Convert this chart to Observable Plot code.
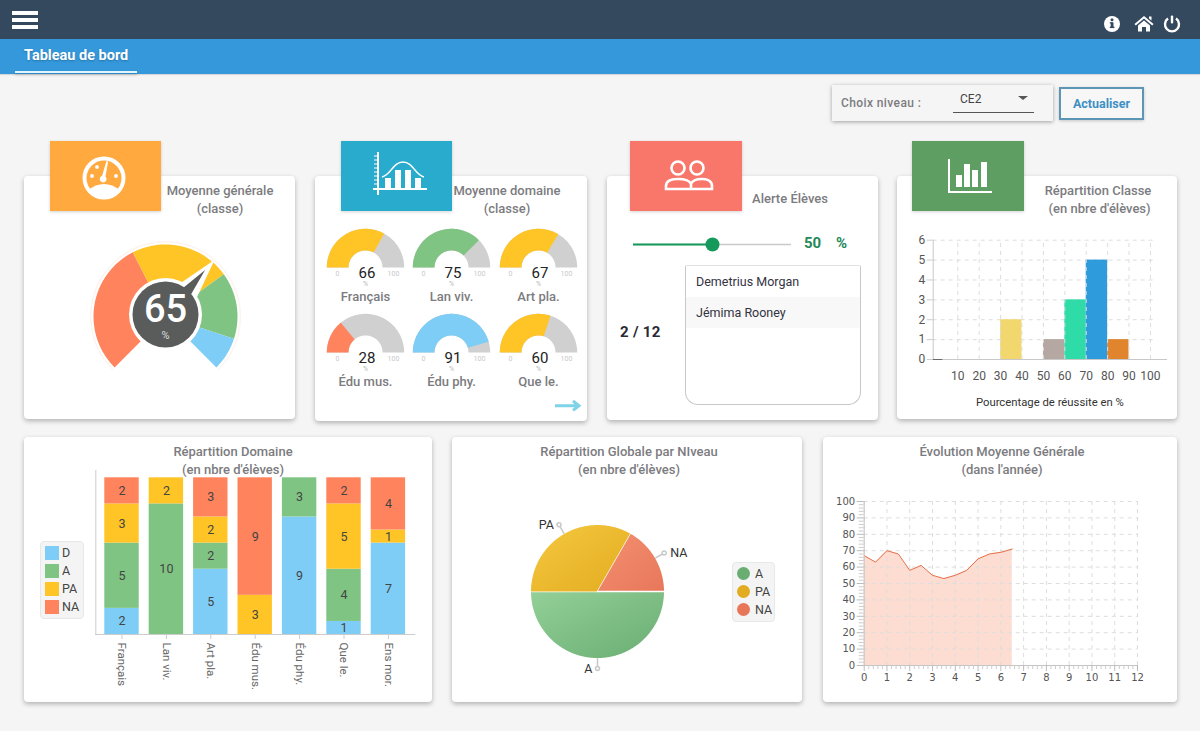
<!DOCTYPE html>
<html lang="fr"><head><meta charset="utf-8">
<script src="https://cdn.jsdelivr.net/npm/d3@7"></script>
<script src="https://cdn.jsdelivr.net/npm/@observablehq/plot@0.6"></script>
<style>
html,body{margin:0;padding:0}
body{width:1200px;height:731px;position:relative;overflow:hidden;background:#f5f5f5;font-family:Roboto,sans-serif}
.abs,.card,.icon,.ttl,.plot{position:absolute}
.card{background:#fff;border-radius:4px;box-shadow:0 2px 5px rgba(0,0,0,.28)}
.icon{box-shadow:0 1px 3px rgba(0,0,0,.18)}
.ttl{color:#7c7c80;font-weight:500;font-size:13px;line-height:18px;text-align:center;white-space:nowrap;transform:translateX(-50%)}
.plot svg{display:block;background:transparent;overflow:visible}
.lg{position:absolute;background:#f4f4f4;border:1px solid #e8e8e8;border-radius:4px;box-sizing:border-box}
.lgrow{position:absolute;font-size:12.5px;color:#444;line-height:14px;white-space:nowrap}
</style></head><body>
<div class="abs" style="left:0;top:0;width:1200px;height:39px;background:#34495e;box-shadow:0 1px 3px rgba(0,0,0,.5)"></div>
<div class="abs" style="left:0;top:39px;width:1200px;height:35px;background:#3498db;box-shadow:0 1px 1px rgba(0,0,0,.12)"></div>
<div class="abs" style="left:12px;top:11px;width:26px;height:4px;background:#fff;box-shadow:0 7px 0 #fff,0 14px 0 #fff"></div>
<div class="abs" style="left:24px;top:47px;color:#fff;font-weight:700;font-size:14.5px;line-height:18px;white-space:nowrap;text-shadow:0 1px 2px rgba(0,0,0,.25)">Tableau de bord</div>
<div class="abs" style="left:15px;top:71px;width:122px;height:2px;background:#e3f6ff;box-shadow:0 2px 3px rgba(0,0,0,.2)"></div>
<svg class="abs" style="left:1100px;top:10px" width="90" height="30" viewBox="0 0 90 30" fill="#fff">
<circle cx="12" cy="14" r="8"/><rect x="10.7" y="12.5" width="2.8" height="5.5" fill="#34495e"/><rect x="9.8" y="16.6" width="4.6" height="1.5" fill="#34495e"/><rect x="9.8" y="12.2" width="3" height="1.3" fill="#34495e"/><circle cx="12" cy="9.8" r="1.5" fill="#34495e"/>
<path d="M44 6 l9.5 8 -1.3 1.4 -8.2 -6.9 -8.2 6.9 -1.3 -1.4 9.5 -8z M38 15.5 l6 -5 6 5 V21.5 h-4 v-4.5 h-4 v4.5 h-4z M49 6.5h2.5v4l-2.5 -2z"/>
<path d="M68 8.6a7 7 0 1 0 8 0" fill="none" stroke="#fff" stroke-width="2.4"/><rect x="70.8" y="5.5" width="2.4" height="8" rx="1"/>
</svg>
<div class="abs" style="left:832px;top:85px;width:221px;height:36px;background:#f5f5f5;box-shadow:0 1px 4px rgba(0,0,0,.35)"></div>
<div class="abs" style="left:841px;top:95px;font-size:12px;font-weight:500;color:#7c7c80;line-height:16px;letter-spacing:.4px">Choix niveau :</div>
<div class="abs" style="left:960px;top:91px;font-size:12px;color:#444;line-height:16px">CE2</div>
<div class="abs" style="left:1018px;top:96px;width:0;height:0;border-left:5px solid transparent;border-right:5px solid transparent;border-top:4px solid #555"></div>
<div class="abs" style="left:953px;top:112px;width:81px;height:1px;background:#555"></div>
<div class="abs" style="left:1059px;top:87px;width:85px;height:33px;box-sizing:border-box;border:2px solid #5d95b5;background:#f7f7f7;color:#3d8fc4;font-size:12.5px;font-weight:700;text-align:center;line-height:30px;box-shadow:0 1px 3px rgba(0,0,0,.2)">Actualiser</div>

<div class="card" style="left:24px;top:176px;width:271px;height:243px"></div>
<div class="card" style="left:315px;top:176px;width:272px;height:245px"></div>
<div class="card" style="left:607px;top:176px;width:271px;height:244px"></div>
<div class="card" style="left:897px;top:176px;width:280px;height:243px"></div>
<div class="card" style="left:24px;top:437px;width:408px;height:265px"></div>
<div class="card" style="left:452px;top:437px;width:350px;height:265px"></div>
<div class="card" style="left:823px;top:437px;width:354px;height:265px"></div>

<div class="icon" style="left:50px;top:141px;width:111px;height:70px;background:#ffa93f"><svg width="111" height="70" fill="#fff">
<circle cx="54" cy="37" r="19.5" fill="none" stroke="#fff" stroke-width="4"/><path d="M38 49q16 -12 32 0q-6 8 -16 8t-16 -8z"/><path d="M56.5 20l1.6 .6-2.6 15a3.4 3.4 0 1 1-3.4-.8z"/><circle cx="42" cy="35" r="1.9"/><circle cx="47" cy="26" r="1.9"/><circle cx="66" cy="35" r="1.9"/></svg></div>
<div class="icon" style="left:341px;top:141px;width:111px;height:70px;background:#29abce"><svg width="111" height="70" fill="#fff">
<rect x="36" y="11" width="2" height="43"/><rect x="32" y="47" width="54" height="2"/><path d="M33 15h3M33 19h3M33 23h3M33 27h3M33 31h3M33 35h3M33 39h3M33 43h3" stroke="#fff"/>
<rect x="44" y="37" width="6" height="10"/><rect x="54" y="29" width="6" height="18"/><rect x="64" y="29" width="6" height="18"/><rect x="74" y="37" width="6" height="10"/>
<path d="M41 36C50 34 52 21 62 21S74 34 83 36" fill="none" stroke="#fff" stroke-width="1.4"/></svg></div>
<div class="icon" style="left:630px;top:141px;width:112px;height:70px;background:#f8776a"><svg width="112" height="70" fill="none" stroke="#fff" stroke-width="2.6">
<circle cx="48" cy="27" r="6.5"/><circle cx="67" cy="27" r="6.5"/><path d="M36 48v-3c0-7 9-7 12-7s11 0 13 5v5zM61 43c2-5 8-5 11-5s10 1 10 7v3H47"/></svg></div>
<div class="icon" style="left:912px;top:141px;width:112px;height:70px;background:#5e9e63"><svg width="112" height="70" fill="#fff">
<rect x="36" y="18" width="2" height="34"/><rect x="36" y="50" width="44" height="2"/><rect x="44" y="34" width="6" height="12"/><rect x="52" y="23" width="6" height="23"/><rect x="60" y="29" width="6" height="17"/><rect x="69" y="21" width="6" height="25"/></svg></div>

<div class="ttl" style="left:220px;top:182px">Moyenne générale<br>(classe)</div>
<div class="ttl" style="left:507px;top:182px">Moyenne domaine<br>(classe)</div>
<div class="ttl" style="left:790px;top:190px">Alerte Élèves</div>
<div class="ttl" style="left:1098px;top:182px">Répartition Classe<br>&nbsp;(en nbre d'élèves)</div>
<div class="ttl" style="left:233px;top:443px">Répartition Domaine<br>(en nbre d'élèves)</div>
<div class="ttl" style="left:629px;top:443px">Répartition Globale par NIveau<br>(en nbre d'élèves)</div>
<div class="ttl" style="left:1002px;top:443px">Évolution Moyenne Générale<br>(dans l'année)</div>

<svg class="abs" style="left:553px;top:397px" width="30" height="18"><path d="M2 8.7H24M20 4l6 4.7-6 4.7" fill="none" stroke="#7fd3e8" stroke-width="3"/></svg>

<div class="abs" style="left:620px;top:323px;font-weight:700;font-size:15px;line-height:18px;color:#2a2a35;letter-spacing:.3px">2 / 12</div>
<div class="abs" style="left:685px;top:265px;width:176px;height:140px;box-sizing:border-box;border:1px solid #c8c8c8;border-top-color:#e2e2e2;border-radius:2px 2px 13px 13px;overflow:hidden">
 <div id="names"></div></div>
<script>
/* ---------- data ---------- */
const COL = {D:"#7ecdf6", A:"#7fc482", PA:"#ffc425", NA:"#ff835c", grey:"#d0d0d0"};
const mainScore = 65, mainUnit = "%";
const mainBandEnds = [40, 70, 90, 100];
const mainBandColors = [COL.NA, COL.PA, COL.A, COL.D];

const domainNames  = ["Français","Lan viv.","Art pla.","Édu mus.","Édu phy.","Que le."];
const domainScores = [66, 75, 67, 28, 91, 60];
const domainColors = [COL.PA, COL.A, COL.PA, COL.NA, COL.D, COL.PA];

const alertThreshold = 50;
const alertStudents = ["Demetrius Morgan","Jémima Rooney"];

const binStarts = [0,10,20,30,40,50,60,70,80,90];
const binCounts = [0,0,0,2,0,1,3,5,1,0];
const binColors = ["#6b6b6b","#fff","#fff","#f2d76e","#fff","#b5a7a1","#2fdba6","#2d9bdc","#e0842e","#fff"];
const binTicks  = [10,20,30,40,50,60,70,80,90,100];

const stackCats = ["Français","Lan viv.","Art pla.","Édu mus.","Édu phy.","Que le.","Ens mor."];
const levels = ["D","A","PA","NA"];
const countsD  = [2,0,5,0,9,1,7];
const countsA  = [5,10,2,0,3,4,0];
const countsPA = [3,2,2,3,0,5,1];
const countsNA = [2,0,3,9,0,2,4];
const levelColors = [COL.D, COL.A, COL.PA, COL.NA];

const pieLabels = ["A","PA","NA"];
const pieValues = [6,4,2];
const pieGrad = [["#93d097","#69ad72"],["#f5c83f","#e3ac20"],["#f39070","#e8775a"]];

const evoMonths = [0,0.5,1,1.5,2,2.5,3,3.5,4,4.5,5,5.5,6,6.5];
const evoValues = [67,63,70,68,58,61,55,53,55,58,65,68,69,71];
const xMajor = d3.range(0,13), yMajor = d3.range(0,101,10);

/* ---------- helpers ---------- */
const pt = (deg,r)=>({x:r*Math.sin(deg*Math.PI/180), y:r*Math.cos(deg*Math.PI/180)});
function arc(a0,a1,r0,r1){
  const n=Math.max(2,Math.ceil(Math.abs(a1-a0)/2)), out=[];
  for(let i=0;i<=n;i++) out.push(pt(a0+(a1-a0)*i/n,r1));
  if(r0>0) for(let i=n;i>=0;i--) out.push(pt(a0+(a1-a0)*i/n,r0));
  else out.push({x:0,y:0});
  return out;
}
function put(svg,left,top){const d=document.createElement("div");d.className="plot";d.style.left=left+"px";d.style.top=top+"px";d.appendChild(svg);document.body.appendChild(d);}
const font={fontFamily:"Roboto, sans-serif",background:"transparent",overflow:"visible"};
const poly=(pts,o)=>Plot.line(pts,{x:"x",y:"y",curve:"linear",stroke:"none",...o});
const txt=(x,y,text,o)=>Plot.text([{x,y}],{x:"x",y:"y",text:()=>text,...o});

/* ---------- main gauge ---------- */
{
  const a=v=>-135+2.7*v;
  const bands=mainBandEnds.map((e,i)=>poly(arc(a(i?mainBandEnds[i-1]:0),a(e),35,72),{fill:mainBandColors[i]}));
  const n=a(mainScore);
  put(Plot.plot({width:180,height:180,margin:0,x:{domain:[-90,90],axis:null},y:{domain:[-90,90],axis:null},style:font,marks:[
    poly(arc(a(0),a(100),74.5,75),{stroke:"#fdf4f0",strokeWidth:1}),
    ...bands,
    poly(arc(n-18,n+18,34,35).slice(0,19).concat([pt(n,73)]),{fill:"#fff",stroke:"#fff",strokeWidth:2}),
    Plot.dot([{x:0,y:2}],{x:"x",y:"y",r:36.5,fill:"#fff"}),
    poly(arc(n-12,n+12,28,29).slice(0,13).concat([pt(n,61)]),{fill:"#595c5b"}),
    Plot.dot([{x:0,y:2}],{x:"x",y:"y",r:33,fill:"#595c5b"}),
    txt(0,7,String(mainScore),{fill:"#fff",fontSize:38,fontWeight:500}),
    txt(0,-19,mainUnit,{fill:"#ddd",fontSize:11})
  ]}),75,226);
}

/* ---------- domain gauges ---------- */
domainScores.forEach((v,i)=>{
  const cx=[364.7,451.3,537.8][i%3], by=i<3?266.7:352.3;
  const a=x=>-90+1.8*x;
  put(Plot.plot({width:90,height:76,margin:0,x:{domain:[-45,45],axis:null},y:{domain:[-36,40],axis:null},style:font,marks:[
    poly(arc(a(0),a(100),17,38.7),{fill:COL.grey}),
    poly(arc(a(0),a(v),17,38.7),{fill:domainColors[i]}),
    txt(-28,-6.5,"0",{fill:"#c9c9c9",fontSize:7}),
    txt(28,-6.5,"100",{fill:"#c9c9c9",fontSize:7}),
    txt(1.5,-6,String(v),{fill:"#222",fontSize:15}),
    txt(0,-16.5,"%",{fill:"#bbb",fontSize:7}),
    txt(0,-29,domainNames[i],{fill:"#7c7c80",fontSize:13,fontWeight:500})
  ]}),cx-45,by-40);
});

/* ---------- alert ---------- */
put(Plot.plot({width:158,height:24,margin:0,x:{domain:[0,100],axis:null},y:{domain:[0,1],axis:null},style:font,marks:[
  Plot.ruleY([0.5],{x1:0,x2:100,stroke:"#c9c9c9",strokeWidth:1.6}),
  Plot.ruleY([0.5],{x1:0,x2:alertThreshold,stroke:"#159a5b",strokeWidth:2}),
  Plot.dot([alertThreshold],{x:d=>d,y:()=>0.5,r:7,fill:"#159a5b"})
]}),633,232);
{
  const h=document.createElement("div");h.className="abs";h.style.cssText="left:804px;top:234px;font-weight:700;font-size:15px;line-height:18px;color:#23895a;white-space:pre";h.textContent=alertThreshold+"    %";document.body.appendChild(h);
  document.getElementById("names").innerHTML=alertStudents.map((n,i)=>`<div style="height:31px;line-height:31px;padding-left:10px;font-size:12.5px;color:#33333f;background:${i%2?"#f8f8f8":"#fff"}">${n}</div>`).join("");
}

/* ---------- histogram ---------- */
{
  const rows=binStarts.map((s,i)=>({s,e:s+10,c:binCounts[i],col:binColors[i]})).filter(d=>d.c>0);
  const tick={fontFamily:"Roboto, sans-serif",fontSize:12};
  put(Plot.plot({width:280,height:243,marginLeft:35.7,marginRight:11,marginTop:63.7,marginBottom:60,
    x:{domain:[-1.5,107.5]},y:{domain:[0,6]},style:font,marks:[
    Plot.ruleY([1,2,3,4,5,6],{x1:-1.5,x2:102,stroke:"#ddd",strokeDasharray:"4,4"}),
    Plot.rectY(rows,{x1:"s",x2:"e",y:"c",fill:d=>d.col}),
    Plot.ruleX(binTicks,{y1:0,y2:6,stroke:"#ddd",strokeDasharray:"4,4"}),
    Plot.frame({anchor:"left",stroke:"#c8c8c8"}),
    Plot.frame({anchor:"bottom",stroke:"#c8c8c8"}),
    Plot.ruleY([0],{x1:-1.5,x2:3,stroke:"#6b6b6b"}),
    Plot.axisY({ticks:[0,1,2,3,4,5,6],tickFormat:d=>String(d),tickSize:6,tickPadding:2,label:null,stroke:"#ccc",fill:"#555",...tick}),
    Plot.axisX({ticks:binTicks,tickSize:0,tickPadding:12,label:null,fill:"#555",...tick}),
    Plot.text(["Pourcentage de réussite en %"],{frameAnchor:"bottom",dy:46,dx:0,fill:"#333",fontSize:11.3})
  ]}),897,176);
}

/* ---------- stacked ---------- */
{
  const source={D:countsD,A:countsA,PA:countsPA,NA:countsNA};
  const rows=levels.flatMap(l=>stackCats.map((c,i)=>({cat:c,level:l,n:source[l][i]}))).filter(d=>d.n>0);
  put(Plot.plot({width:408,height:265,marginLeft:71.3,marginRight:17.7,marginTop:33,marginBottom:68,
    x:{domain:stackCats,range:[75.3,386.1],round:false,paddingInner:.225,paddingOuter:.1125,label:null},
    y:{domain:[0,12],range:[197,40.3],axis:null},
    color:{domain:levels,range:levelColors},style:font,marks:[
    Plot.barY(rows,{x:"cat",y:"n",fill:"level",order:levels}),
    Plot.text(rows,Plot.stackY({x:"cat",y:"n",z:"level",order:levels,text:"n",fill:"#444",fontSize:12.5})),
    Plot.frame({anchor:"left",stroke:"#ccc"}),
    Plot.frame({anchor:"bottom",stroke:"#ccc"}),
    Plot.axisX({tickRotate:90,tickSize:5,tickPadding:3,stroke:"#ccc",fill:"#666",fontSize:11.5,fontFamily:"Roboto, sans-serif",label:null})
  ]}),24,437);
  const lg=document.createElement("div");lg.className="lg";lg.style.cssText="left:40px;top:541px;width:44px;height:78px";document.body.appendChild(lg);
  levels.forEach((l,i)=>{
    const r=document.createElement("div");r.className="lgrow";r.style.cssText=`left:45px;top:${546+18*i}px`;
    r.innerHTML=`<span style="display:inline-block;width:14px;height:14px;background:${levelColors[i]};vertical-align:top;margin-right:3px"></span>${l}`;
    document.body.appendChild(r);
  });
}

/* ---------- pie ---------- */
{
  const total=d3.sum(pieValues);let start=90;
  const slices=pieValues.map((v,i)=>{const a0=start,a1=start+v/total*360;start=a1;return {label:pieLabels[i],a0,a1,mid:(a0+a1)/2,i};});
  const defs=()=>d3.create("svg:defs").html(pieGrad.map((g,i)=>`<linearGradient id="pg${i}" x1="0" y1="0" x2="1" y2="1"><stop offset="0" stop-color="${g[0]}"/><stop offset="1" stop-color="${g[1]}"/></linearGradient>`).join("")).node();
  const labelled=slices.map(s=>({...pt(s.mid,77),label:s.label,right:Math.sin(s.mid*Math.PI/180)>0.1}));
  put(Plot.plot({width:350,height:265,margin:0,x:{domain:[-145,205],axis:null},y:{domain:[-111,154],axis:null},style:font,marks:[
    defs,
    ...slices.map(s=>poly(arc(s.a0,s.a1,0,67.2),{fill:`url(#pg${s.i})`,stroke:"#fff",strokeWidth:1.4})),
    ...slices.map(s=>Plot.line([pt(s.mid,67.2),pt(s.mid,76)],{x:"x",y:"y",stroke:"#c8c8c8"})),
    Plot.dot(slices.map(s=>pt(s.mid,77)),{x:"x",y:"y",r:2,fill:"#fff",stroke:"#c8c8c8"}),
    Plot.text(labelled.filter(d=>d.right),{x:"x",y:"y",text:"label",textAnchor:"start",dx:6,fill:"#333",fontSize:12.5}),
    Plot.text(labelled.filter(d=>!d.right),{x:"x",y:"y",text:"label",textAnchor:"end",dx:-5,fill:"#333",fontSize:12.5})
  ]}),452,437);
  const lg=document.createElement("div");lg.className="lg";lg.style.cssText="left:732px;top:562px;width:43px;height:60px";document.body.appendChild(lg);
  pieLabels.forEach((l,i)=>{
    const r=document.createElement("div");r.className="lgrow";r.style.cssText=`left:737px;top:${567+18*i}px`;
    r.innerHTML=`<span style="display:inline-block;width:13px;height:13px;border-radius:50%;background:${pieGrad[i][1]};vertical-align:top;margin-right:5px"></span>${l}`;
    document.body.appendChild(r);
  });
}

/* ---------- evolution ---------- */
{
  const rows=evoMonths.map((m,i)=>({m,v:evoValues[i]}));
  const f={fontFamily:"'DejaVu Sans', sans-serif",fontSize:10};
  const xMinor=d3.range(0,12.01,0.2).filter(d=>Math.abs(d-Math.round(d))>.01);
  const yMinor=d3.range(0,100.01,2).filter(d=>d%10!==0);
  put(Plot.plot({width:354,height:265,marginLeft:40.7,marginRight:40,marginTop:64,marginBottom:37,
    x:{domain:[0,12]},y:{domain:[0,100]},style:font,marks:[
    Plot.areaY(rows,{x:"m",y:"v",fill:"#f98e66",fillOpacity:.3,curve:"linear"}),
    Plot.ruleX(xMajor,{y1:0,y2:100,stroke:"#ddd",strokeDasharray:"4,4"}),
    Plot.ruleY(yMajor,{x1:0,x2:12,stroke:"#ddd",strokeDasharray:"4,4"}),
    Plot.lineY(rows,{x:"m",y:"v",stroke:"#e8704a",strokeWidth:1,curve:"linear"}),
    Plot.frame({anchor:"left",stroke:"#c4c4c4"}),
    Plot.frame({anchor:"bottom",stroke:"#c4c4c4"}),
    Plot.axisX({ticks:xMinor,tickSize:4,tickFormat:()=>"",label:null,stroke:"#ccc"}),
    Plot.axisY({ticks:yMinor,tickSize:5,tickFormat:()=>"",label:null,stroke:"#ccc"}),
    Plot.axisX({ticks:xMajor,tickSize:6,tickPadding:2,label:null,stroke:"#bbb",fill:"#555",tickFormat:d=>String(d),...f}),
    Plot.axisY({ticks:yMajor,tickSize:7,tickPadding:2,label:null,stroke:"#bbb",fill:"#555",...f})
  ]}),823,437);
}
</script>
</body></html>
